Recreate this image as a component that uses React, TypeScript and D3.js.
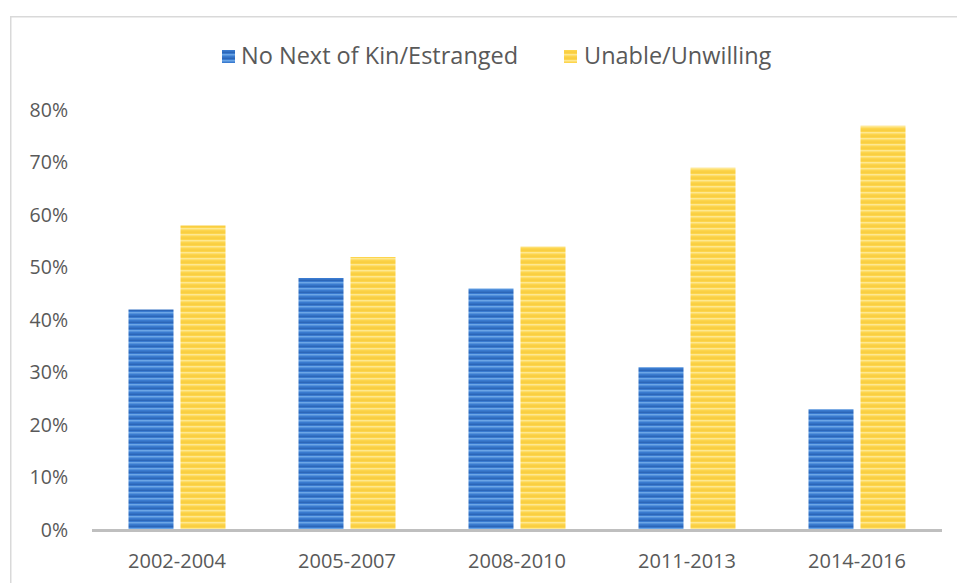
import React from "react";
import * as d3 from "d3";

const categories = ["2002-2004", "2005-2007", "2008-2010", "2011-2013", "2014-2016"];
const noNextOfKin = [42, 48, 46, 31, 23];
const unableUnwilling = [58, 52, 54, 69, 77];
const yTicks = [0, 10, 20, 30, 40, 50, 60, 70, 80];
const seriesNames = ["No Next of Kin/Estranged", "Unable/Unwilling"];

const W = 957;
const H = 583;
const FONT = "'Open Sans', 'Liberation Sans', sans-serif";
const TEXT = "#595959";

export default function App() {
  const x0 = d3.scaleBand<string>().domain(categories).range([92, 942]).paddingInner(0).paddingOuter(0);
  const y = d3.scaleLinear().domain([0, 80]).range([530, 110]);
  const barW = 45;
  const offset = 26;
  const series = [
    { name: seriesNames[0], values: noNextOfKin, fill: "url(#blueStripe)", dx: -offset },
    { name: seriesNames[1], values: unableUnwilling, fill: "url(#yellowStripe)", dx: offset },
  ];

  return (
    <svg width={W} height={H} style={{ position: "absolute", left: 0, top: 0, background: "#fff" }}>
      <defs>
        <pattern id="blueStripe" width="8" height="6" patternUnits="userSpaceOnUse">
          <rect width="8" height="6" fill="#3a7bd0" />
          <rect y="0" width="8" height="1.5" fill="#6ca6e6" />
          <rect y="3.5" width="8" height="1.5" fill="#2c66b8" />
        </pattern>
        <pattern id="yellowStripe" width="8" height="6" patternUnits="userSpaceOnUse">
          <rect width="8" height="6" fill="#fdd54c" />
          <rect y="0" width="8" height="1.5" fill="#fee891" />
          <rect y="3.5" width="8" height="1.2" fill="#f8cc3c" />
        </pattern>
      </defs>
      <rect x={10.75} y={16.75} width={970} height={600} fill="none" stroke="#d9d9d9" strokeWidth={1.5} />

      {/* Legend */}
      <g fontFamily={FONT} fontSize={23.5} fill={TEXT}>
        <rect x={222} y={50} width={13} height={13} fill="url(#blueStripe)" />
        <text x={241} y={64}>{seriesNames[0]}</text>
        <rect x={564} y={50} width={13} height={13} fill="url(#yellowStripe)" />
        <text x={584} y={64}>{seriesNames[1]}</text>
      </g>

      {/* Y axis labels */}
      <g fontFamily={FONT} fontSize={19.5} fill={TEXT} textAnchor="end">
        {yTicks.map((t) => (
          <text key={t} x={68} y={y(t)} dy="0.35em">
            {t}%
          </text>
        ))}
      </g>

      {/* Bars */}
      {series.map((s) => (
        <g key={s.name}>
          {categories.map((c, i) => {
            const cx = (x0(c) as number) + x0.bandwidth() / 2 + s.dx;
            return (
              <rect
                key={c}
                x={cx - barW / 2}
                y={y(s.values[i])}
                width={barW}
                height={y(0) - y(s.values[i])}
                fill={s.fill}
              />
            );
          })}
        </g>
      ))}

      {/* X axis */}
      <line x1={92} x2={942} y1={y(0) + 0.5} y2={y(0) + 0.5} stroke="#bfbfbf" strokeWidth={3} />
      <g fontFamily={FONT} fontSize={20} fill={TEXT} textAnchor="middle">
        {categories.map((c) => (
          <text key={c} x={(x0(c) as number) + x0.bandwidth() / 2} y={568}>
            {c}
          </text>
        ))}
      </g>
    </svg>
  );
}
